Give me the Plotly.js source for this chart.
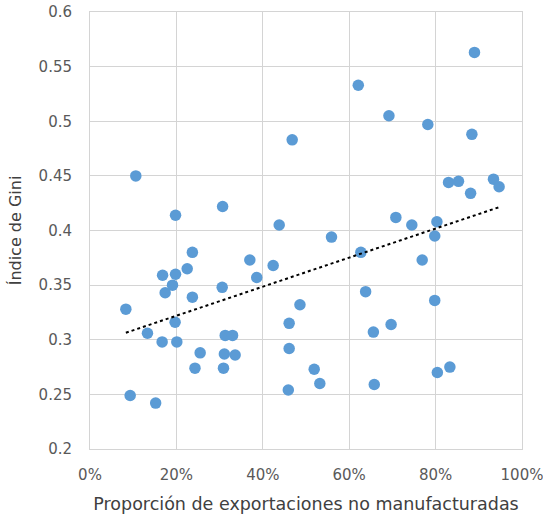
<!DOCTYPE html>
<html>
<head>
<meta charset="utf-8">
<script src="https://cdn.plot.ly/plotly-3.0.1.min.js"></script>
<style>html,body{margin:0;padding:0;background:#fff;}#chart{width:543px;height:514px;}</style>
</head>
<body>
<div id="chart"></div>
<script>
// Proporción de exportaciones no manufacturadas (%)
const exportShare = [10.6,19.8,30.7,23.7,16.8,19.8,22.5,19.1,17.4,23.7,30.6,8.3,19.7,13.3,16.7,20.1,25.5,24.3,9.3,15.2,
  31.3,33.0,31.1,33.6,30.9,43.8,55.9,37.0,42.4,38.6,62.7,63.8,48.6,46.1,46.1,51.9,53.2,45.9,65.6,65.8,
  62.1,46.8,89.0,69.2,78.2,88.4,83.0,85.3,88.1,93.4,94.7,70.8,74.5,80.3,79.8,76.9,79.8,69.7,80.4,83.3];
// Índice de Gini
const gini = [0.450,0.414,0.422,0.380,0.359,0.360,0.365,0.350,0.343,0.339,0.348,0.328,0.316,0.306,0.298,0.298,0.288,0.274,0.249,0.242,
  0.304,0.304,0.287,0.286,0.274,0.405,0.394,0.373,0.368,0.357,0.380,0.344,0.332,0.315,0.292,0.273,0.260,0.254,0.307,0.259,
  0.533,0.483,0.563,0.505,0.497,0.488,0.444,0.445,0.434,0.447,0.440,0.412,0.405,0.408,0.395,0.373,0.336,0.314,0.270,0.275];
const xTicks = [0,20,40,60,80,100];
const yTicks = [0.2,0.25,0.3,0.35,0.4,0.45,0.5,0.55,0.6];

// linear trendline (least squares) from the data
const n = exportShare.length;
const mx = exportShare.reduce((a,b)=>a+b,0)/n;
const my = gini.reduce((a,b)=>a+b,0)/n;
let sxy=0, sxx=0;
for(let i=0;i<n;i++){sxy+=(exportShare[i]-mx)*(gini[i]-my); sxx+=(exportShare[i]-mx)**2;}
const slope = sxy/sxx, intercept = my - slope*mx;
const xmin = Math.min(...exportShare), xmax = Math.max(...exportShare);
const trendX = [xmin, xmax];
const trendY = trendX.map(v=>intercept+slope*v);

const font = "'DejaVu Sans', sans-serif";
const data = [
  {x: exportShare, y: gini, type:'scatter', mode:'markers',
   marker:{color:'#5b9bd5', size:11.5, line:{width:0}}, hoverinfo:'x+y'},
  {x: trendX, y: trendY, type:'scatter', mode:'lines',
   line:{color:'#000', width:2, dash:'dot'}, hoverinfo:'skip'}
];
const layout = {
  width:543, height:514,
  margin:{l:90, r:21, t:12, b:65},
  paper_bgcolor:'#fff', plot_bgcolor:'#fff',
  showlegend:false,
  font:{family:font, color:'#595959', size:14},
  xaxis:{range:[0,100], tickvals:xTicks, ticktext:xTicks.map(v=>v+'%'),
    showgrid:true, gridcolor:'#d4d4d4', gridwidth:1, zeroline:false,
    showline:true, linecolor:'#d4d4d4', linewidth:1, mirror:true,
    ticks:'', ticklabelstandoff:12, ticklabeloverflow:'allow', automargin:false,
    tickfont:{size:15, color:'#595959'},
    title:{text:'Proporción de exportaciones no manufacturadas', font:{size:17.5, color:'#404040'}, standoff:14}},
  yaxis:{range:[0.2,0.6], tickvals:yTicks, ticktext:yTicks.map(v=>String(v)),
    showgrid:true, gridcolor:'#d4d4d4', gridwidth:1, zeroline:false,
    showline:true, linecolor:'#d4d4d4', linewidth:1, mirror:true,
    ticks:'', ticklabelstandoff:14, ticklabeloverflow:'allow', automargin:false,
    tickfont:{size:15, color:'#595959'},
    title:{text:'Índice de Gini', font:{size:16, color:'#404040'}, standoff:12}}
};
Plotly.newPlot('chart', data, layout, {displayModeBar:false, staticPlot:true});
</script>
</body>
</html>
